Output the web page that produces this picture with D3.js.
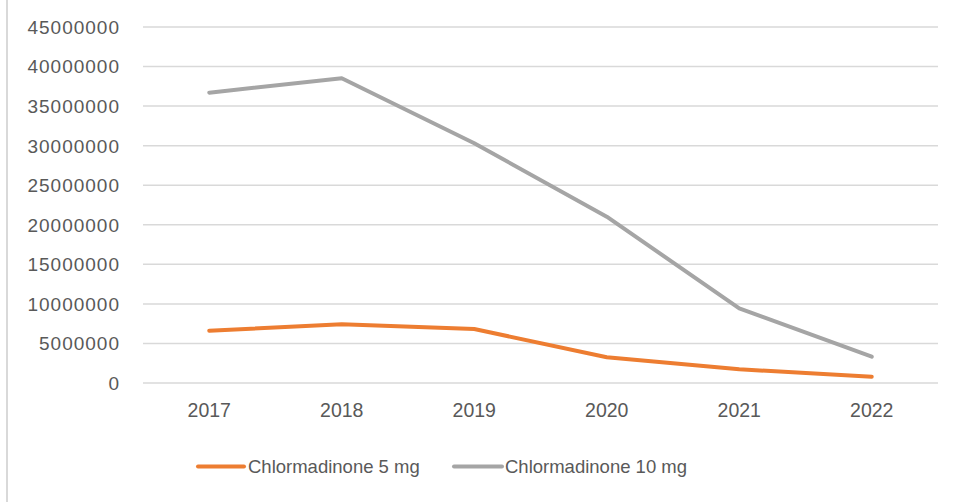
<!DOCTYPE html>
<html>
<head>
<meta charset="utf-8">
<script src="https://cdn.jsdelivr.net/npm/d3@7"></script>
<style>
  html, body { margin: 0; padding: 0; background: #fff; }
  svg { display: block; }
  text { font-family: "Liberation Sans", Arial, sans-serif; fill: #595959; }
</style>
</head>
<body>
<svg id="chart" width="955" height="502"></svg>
<script>
const years = ["2017", "2018", "2019", "2020", "2021", "2022"];
const series5mg = [6550000, 7360000, 6760000, 3190000, 1670000, 730000];
const series10mg = [36640000, 38460000, 30240000, 20960000, 9380000, 3260000];
const seriesNames = ["Chlormadinone 5 mg", "Chlormadinone 10 mg"];
const seriesColors = ["#ED7D31", "#A5A5A5"];
const yTicks = [0, 5000000, 10000000, 15000000, 20000000, 25000000, 30000000, 35000000, 40000000, 45000000];

const svg = d3.select("#chart");
const W = 955, H = 502;
const plot = { left: 143, right: 938, top: 26.5, bottom: 382.5 };

// Left border line of chart area
svg.append("line")
  .attr("x1", 7).attr("x2", 7).attr("y1", 0).attr("y2", H)
  .attr("stroke", "#d9d9d9").attr("stroke-width", 2);

const x = d3.scaleBand().domain(years).range([plot.left, plot.right]);
const y = d3.scaleLinear().domain([0, 45000000]).range([plot.bottom, plot.top]);

// Gridlines + y labels
const yAxis = d3.axisLeft(y).tickValues(yTicks).tickSize(-(plot.right - plot.left)).tickPadding(23).tickFormat(d3.format("d"));
const gy = svg.append("g").attr("transform", `translate(${plot.left},0)`).call(yAxis);
gy.select(".domain").remove();
gy.selectAll(".tick line").attr("stroke", "#d9d9d9").attr("stroke-width", 1.5);
gy.selectAll(".tick text")
  .style("font-family", '"Liberation Sans", Arial, sans-serif')
  .style("font-size", "19px").attr("fill", "#595959")
  .attr("letter-spacing", "1px").attr("dy", "0.36em");

// X labels
const xAxis = d3.axisBottom(x).tickSize(0).tickPadding(21);
const gx = svg.append("g").attr("transform", `translate(0,${plot.bottom})`).call(xAxis);
gx.select(".domain").remove();
gx.selectAll(".tick text")
  .style("font-family", '"Liberation Sans", Arial, sans-serif')
  .style("font-size", "19.5px").attr("fill", "#595959");

// Lines
const allSeries = [series5mg, series10mg];
const line = d3.line()
  .x((d, i) => x(years[i]) + x.bandwidth() / 2)
  .y(d => y(d));

// draw gray first? Excel draws in series order: 5mg then 10mg
allSeries.forEach((s, k) => {
  svg.append("path")
    .datum(s)
    .attr("fill", "none")
    .attr("stroke", seriesColors[k])
    .attr("stroke-width", 4)
    .attr("stroke-linecap", "round")
    .attr("stroke-linejoin", "round")
    .attr("d", line);
});

// Legend
const legendItems = [
  { x1: 198, x2: 244, tx: 248 },
  { x1: 454, x2: 502, tx: 505 }
];
legendItems.forEach((it, k) => {
  svg.append("line")
    .attr("x1", it.x1).attr("x2", it.x2).attr("y1", 466.5).attr("y2", 466.5)
    .attr("stroke", seriesColors[k]).attr("stroke-width", 4).attr("stroke-linecap", "round");
  svg.append("text")
    .attr("x", it.tx).attr("y", 473)
    .style("font-size", "18.5px")
    .text(seriesNames[k]);
});
</script>
</body>
</html>
